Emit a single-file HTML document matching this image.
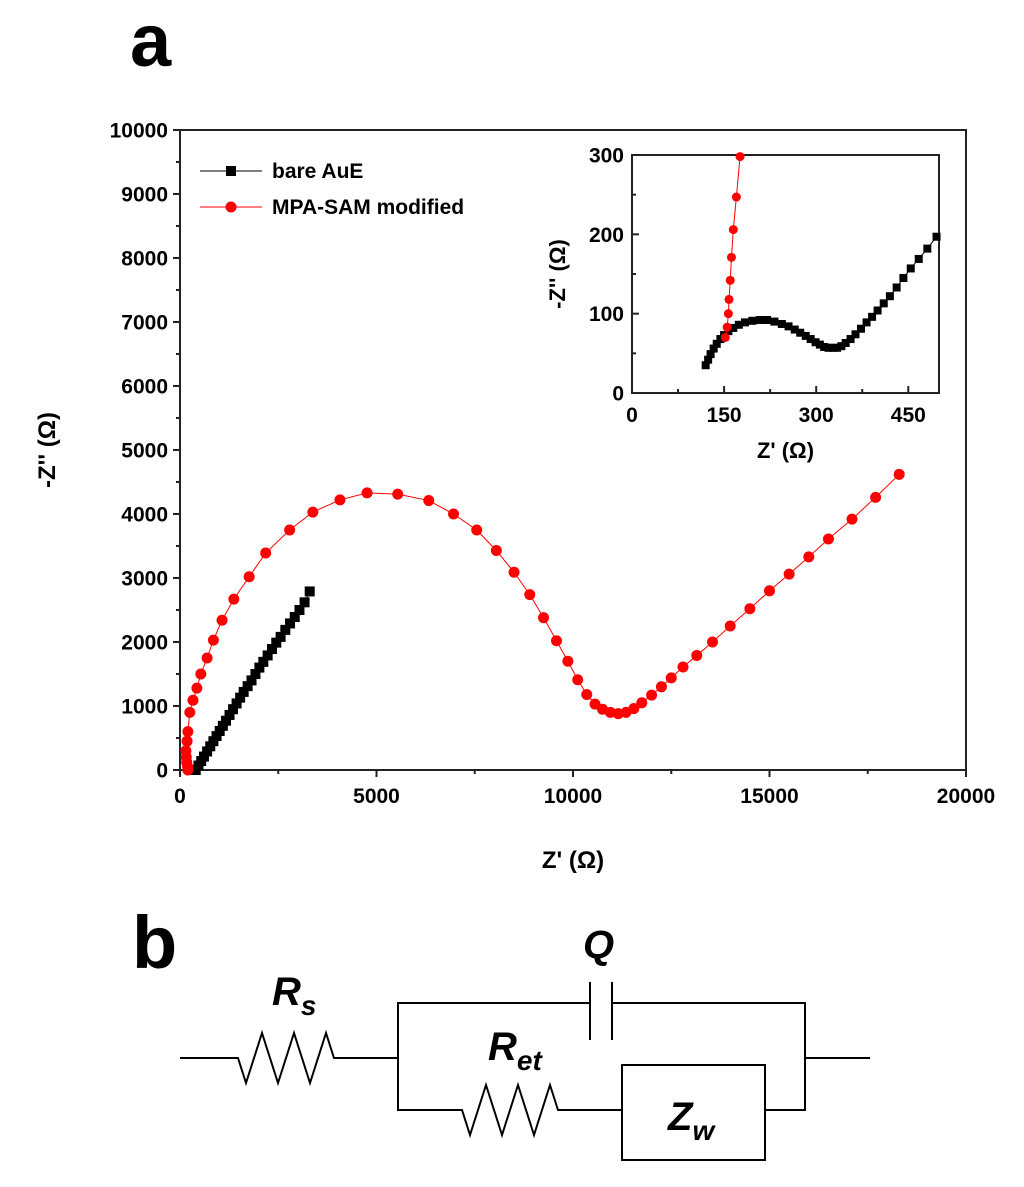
<!DOCTYPE html>
<html><head><meta charset="utf-8"><style>
body{margin:0;background:#fff;}
svg text{font-family:"Liberation Sans",Arial,sans-serif;font-weight:bold;}
</style></head><body>
<svg width="1024" height="1182" viewBox="0 0 1024 1182">
<text x="130" y="66" font-size="74">a</text>
<g id="main"></g>
<g id="inset"></g>
<text x="132" y="968" font-size="74">b</text>
<g fill="none" stroke="#000" stroke-width="2">
<polyline points="180,1058 238,1058 246,1083 262,1033 278,1083 294,1033 310,1083 326,1033 334,1058 398,1058"/>
<polyline points="590,1003 398,1003 398,1110 462,1110 470,1135 486,1085 502,1135 518,1085 534,1135 550,1085 558,1110 622,1110"/>
<polyline points="612,1003 805,1003 805,1110 765,1110"/>
<line x1="805" y1="1058" x2="870" y2="1058"/>
<line x1="590" y1="982" x2="590" y2="1040"/><line x1="612" y1="982" x2="612" y2="1040"/>
<rect x="622" y="1065" width="143" height="95"/>
</g>
<g font-style="italic" font-size="40">
<text x="272" y="1005">R<tspan font-size="28" dy="10">s</tspan></text>
<text x="583" y="958">Q</text>
<text x="488" y="1060">R<tspan font-size="28" dy="10">et</tspan></text>
<text x="668" y="1130">Z<tspan font-size="28" dy="10">w</tspan></text>
</g>
</svg>
<script>
const NS="http://www.w3.org/2000/svg";
const mainXTicks=[0,5000,10000,15000,20000];
const mainYTicks=[0,1000,2000,3000,4000,5000,6000,7000,8000,9000,10000];
const bareX=[400,470,540,610,690,770,850,930,1010,1090,1170,1260,1350,1440,1530,1620,1720,1820,1920,2020,2120,2230,2340,2450,2560,2680,2800,2920,3040,3170,3300];
const bareY=[0,70,140,210,290,370,450,530,610,690,770,860,950,1040,1130,1220,1310,1400,1500,1600,1690,1790,1890,1990,2080,2190,2290,2390,2500,2620,2790];
const mpaX=[200,190,170,160,150,180,200,250,330,430,530,690,850,1070,1370,1760,2180,2790,3380,4070,4760,5540,6330,6960,7550,8050,8500,8900,9250,9580,9870,10120,10350,10560,10750,10950,11150,11350,11550,11750,12000,12250,12500,12800,13150,13550,14000,14500,15000,15500,16000,16500,17100,17700,18300];
const mpaY=[0,60,120,200,300,450,600,900,1090,1280,1500,1750,2030,2340,2670,3020,3390,3750,4030,4220,4330,4310,4210,4000,3750,3430,3090,2740,2380,2020,1700,1410,1180,1030,950,900,880,900,960,1050,1170,1300,1440,1610,1790,2000,2250,2520,2800,3060,3330,3610,3920,4260,4620];
const insetXTicks=[0,150,300,450];
const insetYTicks=[0,100,200,300];
const inBareX=[120,124,128,133,138,144,150,157,165,174,184,196,208,220,232,244,255,265,274,283,291,299,306,313,320,327,334,341,348,356,364,373,382,391,400,410,420,431,442,454,467,481,496];
const inBareY=[35,42,49,56,62,68,73,78,82,86,89,91,92,92,90,87,84,80,76,72,68,64,61,58,57,57,57,59,63,68,74,81,89,96,104,113,122,133,145,157,169,182,197];
const inMpaX=[152,155,157,158,160,162,165,170,176];
const inMpaY=[70,83,100,118,142,171,206,247,298];

function mk(p,tag,at,name){const e=document.createElementNS(NS,tag);for(const k in at)e.setAttribute(k,at[k]);


p.appendChild(e);return e;}

function chart(g,o){
 const sx=v=>o.x0+(v-o.xmin)/(o.xmax-o.xmin)*(o.x1-o.x0);
 const sy=v=>o.y0-(v-o.ymin)/(o.ymax-o.ymin)*(o.y0-o.y1);
 const d=o.out?-1:1;
 mk(g,'rect',{x:o.x0,y:o.y1,width:o.x1-o.x0,height:o.y0-o.y1,fill:'none',stroke:'#222','stroke-width':2},'plot-frame');
 o.xt.forEach((t,i)=>{const x=sx(t);mk(g,'line',{x1:x,x2:x,y1:o.y0,y2:o.y0-7*d,stroke:'#222','stroke-width':2},'x-tick');
  if(i<o.xt.length-1){const xm=sx((t+o.xt[i+1])/2);if(xm<=o.x1)mk(g,'line',{x1:xm,x2:xm,y1:o.y0,y2:o.y0-4*d,stroke:'#222','stroke-width':2},'x-minor-tick');}
  const tx=mk(g,'text',{x:x,y:o.y0+o.fs+(o.out?12:8),'text-anchor':'middle','font-size':o.fs},'x-tick-label');tx.textContent=t;});
 o.yt.forEach((t,i)=>{const y=sy(t);mk(g,'line',{x1:o.x0,x2:o.x0+7*d,y1:y,y2:y,stroke:'#222','stroke-width':2},'y-tick');
  if(i<o.yt.length-1){const ym=sy((t+o.yt[i+1])/2);mk(g,'line',{x1:o.x0,x2:o.x0+4*d,y1:ym,y2:ym,stroke:'#222','stroke-width':2},'y-minor-tick');}
  const tx=mk(g,'text',{x:o.x0-(o.out?12:8),y:y+o.fs*0.36,'text-anchor':'end','font-size':o.fs},'y-tick-label');tx.textContent=t;});
 o.series.forEach(s=>{
  mk(g,'polyline',{points:s.x.map((v,i)=>sx(v)+','+sy(s.y[i])).join(' '),fill:'none',stroke:s.c,'stroke-width':1},s.name+'-line');
  s.x.forEach((v,i)=>{if(s.sq)mk(g,'rect',{x:sx(v)-o.m,y:sy(s.y[i])-o.m,width:2*o.m,height:2*o.m,fill:s.c},s.name+'-point');
   else mk(g,'circle',{cx:sx(v),cy:sy(s.y[i]),r:o.m+0.5,fill:s.c},s.name+'-point');});
 });
 const xl=mk(g,'text',{x:(o.x0+o.x1)/2,y:o.xly,'text-anchor':'middle','font-size':o.lfs},'x-axis-title');xl.textContent="Z' (Ω)";
 const yl=mk(g,'text',{x:0,y:0,'text-anchor':'middle','font-size':o.lfs,transform:`translate(${o.ylx},${(o.y0+o.y1)/2}) rotate(-90)`},'y-axis-title');yl.textContent="-Z'' (Ω)";
}
chart(document.getElementById('main'),{x0:180,x1:966,y0:770,y1:130,xmin:0,xmax:20000,ymin:0,ymax:10000,xt:mainXTicks,yt:mainYTicks,fs:21,lfs:24,m:5,xly:868,ylx:55,out:true,
 series:[{x:bareX,y:bareY,c:'#000',sq:true,name:'bare-aue'},{x:mpaX,y:mpaY,c:'#ff0000',sq:false,name:'mpa-sam'}]});
chart(document.getElementById('inset'),{x0:632,x1:939,y0:393,y1:155,xmin:0,xmax:500,ymin:0,ymax:300,xt:insetXTicks,yt:insetYTicks,fs:21,lfs:22,m:4,xly:458,ylx:565,out:false,
 series:[{x:inBareX,y:inBareY,c:'#000',sq:true,name:'inset-bare-aue'},{x:inMpaX,y:inMpaY,c:'#ff0000',sq:false,name:'inset-mpa-sam'}]});
const lg=document.getElementById('main');
mk(lg,'line',{x1:200,x2:262,y1:171,y2:171,stroke:'#000','stroke-width':1},'legend-line-bare');
mk(lg,'rect',{x:226,y:166,width:10,height:10,fill:'#000'},'legend-marker-bare');
let t=mk(lg,'text',{x:272,y:178,'font-size':21},'legend-label-bare');t.textContent='bare AuE';
mk(lg,'line',{x1:200,x2:262,y1:207,y2:207,stroke:'#ff0000','stroke-width':1},'legend-line-mpa');
mk(lg,'circle',{cx:231,cy:207,r:5.5,fill:'#ff0000'},'legend-marker-mpa');
t=mk(lg,'text',{x:272,y:214,'font-size':21},'legend-label-mpa');t.textContent='MPA-SAM modified';
</script>
</body></html>
